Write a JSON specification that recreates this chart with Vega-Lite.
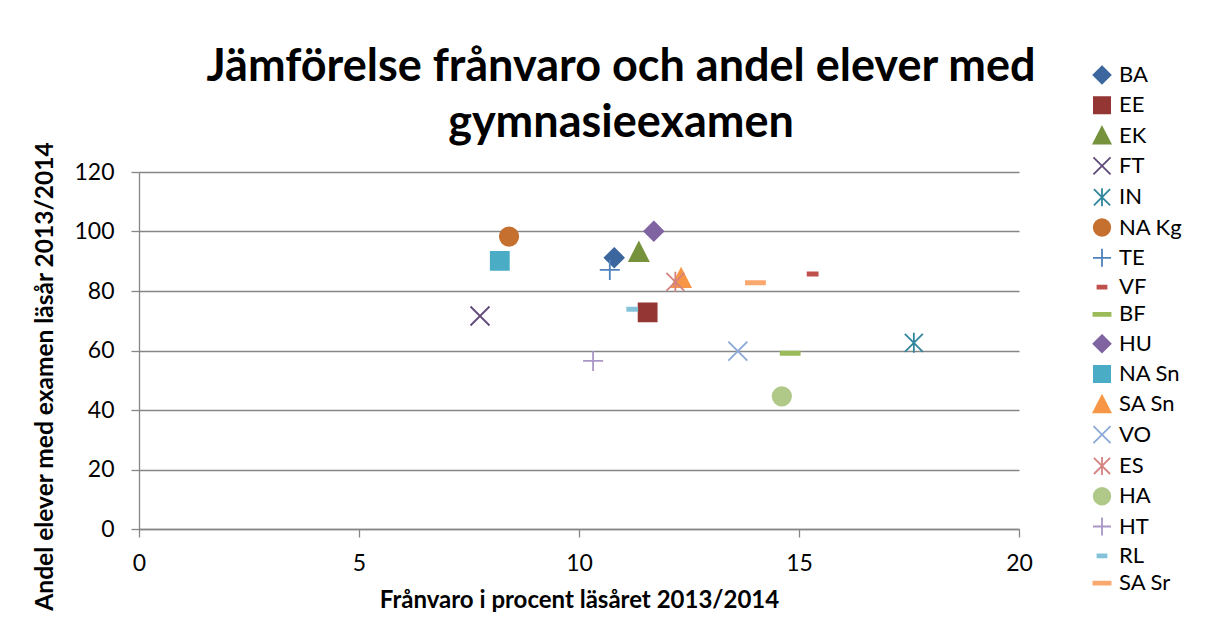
{
  "$schema": "https://vega.github.io/schema/vega-lite/v6.json",
  "autosize": "none",
  "width": 880,
  "height": 357,
  "padding": {"left": 139, "top": 172, "right": 205, "bottom": 108},
  "background": "white",
  "title": {
    "text": ["Jämförelse frånvaro och andel elever med", "gymnasieexamen"],
    "font": "Lato",
    "fontSize": 45,
    "fontWeight": "bold",
    "color": "black",
    "anchor": "middle",
    "dx": 42,
    "offset": -82,
    "lineHeight": 56
  },
  "data": {
    "values": [
      {"program": "BA", "franvaro": 10.80, "andel": 91.2},
      {"program": "EE", "franvaro": 11.56, "andel": 72.8},
      {"program": "EK", "franvaro": 11.36, "andel": 93.1},
      {"program": "FT", "franvaro": 7.75, "andel": 71.6},
      {"program": "IN", "franvaro": 17.61, "andel": 62.6},
      {"program": "NA Kg", "franvaro": 8.41, "andel": 98.3},
      {"program": "TE", "franvaro": 10.70, "andel": 87.1},
      {"program": "VF", "franvaro": 15.31, "andel": 85.7},
      {"program": "BF", "franvaro": 14.80, "andel": 59.1},
      {"program": "HU", "franvaro": 11.70, "andel": 100.1},
      {"program": "NA Sn", "franvaro": 8.20, "andel": 90.1},
      {"program": "SA Sn", "franvaro": 12.32, "andel": 84.3},
      {"program": "VO", "franvaro": 13.61, "andel": 59.8},
      {"program": "ES", "franvaro": 12.19, "andel": 83.1},
      {"program": "HA", "franvaro": 14.61, "andel": 44.6},
      {"program": "HT", "franvaro": 10.32, "andel": 56.5},
      {"program": "RL", "franvaro": 11.21, "andel": 73.9},
      {"program": "SA Sr", "franvaro": 14.01, "andel": 82.8}
    ]
  },
  "mark": {"type": "point", "filled": true, "size": 400, "strokeWidth": 1.8, "opacity": 1},
  "encoding": {
    "x": {
      "field": "franvaro",
      "type": "quantitative",
      "title": "Frånvaro i procent läsåret 2013/2014",
      "scale": {"domain": [0, 20], "nice": false, "zero": false},
      "axis": {
        "values": [0, 5, 10, 15, 20],
        "grid": false,
        "labelFlush": false,
        "domainColor": "#868686",
        "domainWidth": 1.3,
        "tickColor": "#868686",
        "tickWidth": 1.3,
        "tickSize": 8,
        "labelFont": "Lato",
        "labelFontSize": 23,
        "labelColor": "black",
        "labelPadding": 15,
        "titleFont": "Lato",
        "titleFontSize": 24,
        "titleFontWeight": "bold",
        "titleColor": "black",
        "titleY": 78,
        "titleBaseline": "alphabetic"
      }
    },
    "y": {
      "field": "andel",
      "type": "quantitative",
      "title": "Andel elever med examen läsår 2013/2014",
      "scale": {"domain": [0, 120], "nice": false, "zero": false},
      "axis": {
        "values": [0, 20, 40, 60, 80, 100, 120],
        "grid": true,
        "gridColor": "#868686",
        "gridWidth": 1.3,
        "domainColor": "#868686",
        "domainWidth": 1.3,
        "tickColor": "#868686",
        "tickWidth": 1.3,
        "tickSize": 8,
        "labelFont": "Lato",
        "labelFontSize": 23,
        "labelColor": "black",
        "labelPadding": 17,
        "titleFont": "Lato",
        "titleFontSize": 24.5,
        "titleFontWeight": "bold",
        "titleColor": "black",
        "titleX": -94,
        "titleY": 204,
        "titleAngle": -90,
        "titleAlign": "center",
        "titleBaseline": "middle"
      }
    },
    "fill": {
      "field": "program",
      "type": "nominal",
      "title": null,
      "scale": {
        "domain": ["BA", "EE", "EK", "FT", "IN", "NA Kg", "TE", "VF", "BF", "HU", "NA Sn", "SA Sn", "VO", "ES", "HA", "HT", "RL", "SA Sr"],
        "range": ["#3C679E", "#943634", "#76923C", "#604A7B", "#31859C", "#C5702F", "#4F81BD", "#C0504D", "#9BBB59", "#8064A2", "#4BACC6", "#F79646", "#8AA8D8", "#D48380", "#B0C888", "#A996C6", "#84C3DA", "#F9A870"]
      },
      "legend": {"orient": "none", "legendX": 952, "legendY": -108, "direction": "vertical", "padding": 0, "symbolSize": 324, "symbolStrokeWidth": 1.8, "labelFont": "Lato", "labelFontSize": 22, "labelColor": "black", "labelOffset": 6, "rowPadding": 5.3, "symbolLimit": 50}
    },
    "stroke": {
      "field": "program",
      "type": "nominal",
      "title": null,
      "scale": {
        "domain": ["BA", "EE", "EK", "FT", "IN", "NA Kg", "TE", "VF", "BF", "HU", "NA Sn", "SA Sn", "VO", "ES", "HA", "HT", "RL", "SA Sr"],
        "range": ["#3C679E", "#943634", "#76923C", "#604A7B", "#31859C", "#C5702F", "#4F81BD", "#C0504D", "#9BBB59", "#8064A2", "#4BACC6", "#F79646", "#8AA8D8", "#D48380", "#B0C888", "#A996C6", "#84C3DA", "#F9A870"]
      },
      "legend": {"orient": "none", "legendX": 952, "legendY": -108, "direction": "vertical", "padding": 0, "symbolSize": 324, "symbolStrokeWidth": 1.8, "labelFont": "Lato", "labelFontSize": 22, "labelColor": "black", "labelOffset": 6, "rowPadding": 5.3, "symbolLimit": 50}
    },
    "shape": {
      "field": "program",
      "type": "nominal",
      "title": null,
      "scale": {
        "domain": ["BA", "EE", "EK", "FT", "IN", "NA Kg", "TE", "VF", "BF", "HU", "NA Sn", "SA Sn", "VO", "ES", "HA", "HT", "RL", "SA Sr"],
        "range": [
          "M0,-0.95L0.95,0L0,0.95L-0.95,0Z",
          "M-0.9,-0.9L0.9,-0.9L0.9,0.9L-0.9,0.9Z",
          "M0,-0.95L0.95,0.9L-0.95,0.9Z",
          "M-0.95,-0.95L0.95,0.95M0.95,-0.95L-0.95,0.95",
          "M-0.9,-0.9L0.9,0.9M0.9,-0.9L-0.9,0.9M0,-1L0,1",
          "M-0.92,0A0.92,0.92,0,1,1,0.92,0A0.92,0.92,0,1,1,-0.92,0Z",
          "M0,-1L0,1M-1,0L1,0",
          "M-0.5,-0.16L0.5,-0.16L0.5,0.16L-0.5,0.16Z",
          "M-0.95,-0.16L0.95,-0.16L0.95,0.16L-0.95,0.16Z",
          "M0,-0.95L0.95,0L0,0.95L-0.95,0Z",
          "M-0.9,-0.9L0.9,-0.9L0.9,0.9L-0.9,0.9Z",
          "M0,-0.95L0.95,0.9L-0.95,0.9Z",
          "M-0.95,-0.95L0.95,0.95M0.95,-0.95L-0.95,0.95",
          "M-0.9,-0.9L0.9,0.9M0.9,-0.9L-0.9,0.9M0,-1L0,1",
          "M-0.92,0A0.92,0.92,0,1,1,0.92,0A0.92,0.92,0,1,1,-0.92,0Z",
          "M0,-1L0,1M-1,0L1,0",
          "M-0.5,-0.16L0.5,-0.16L0.5,0.16L-0.5,0.16Z",
          "M-0.95,-0.16L0.95,-0.16L0.95,0.16L-0.95,0.16Z"
        ]
      },
      "legend": {"orient": "none", "legendX": 952, "legendY": -108, "direction": "vertical", "padding": 0, "symbolSize": 324, "symbolStrokeWidth": 1.8, "labelFont": "Lato", "labelFontSize": 22, "labelColor": "black", "labelOffset": 6, "rowPadding": 5.3, "symbolLimit": 50}
    }
  },
  "config": {
    "view": {"stroke": null},
    "font": "Lato"
  }
}
